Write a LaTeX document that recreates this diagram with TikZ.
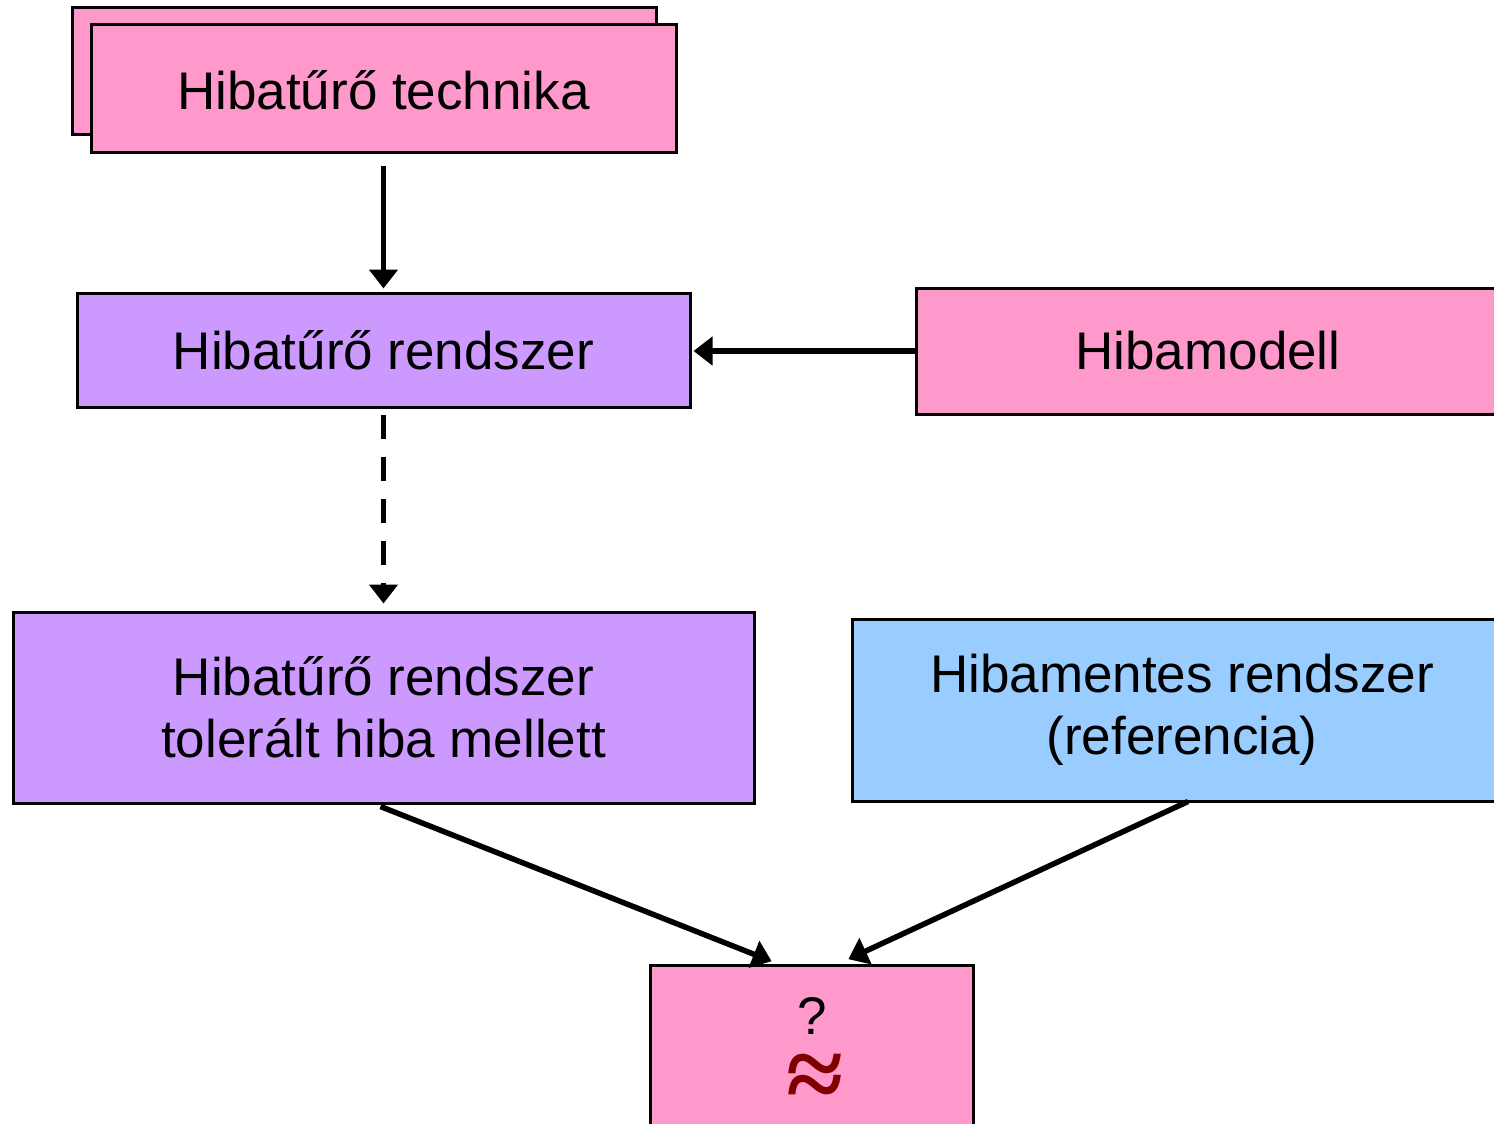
\documentclass[tikz,border=0pt]{standalone}
\usepackage{fontspec}
\setmainfont{Liberation Sans}
\newfontfamily\serifsym{Liberation Serif}
\usetikzlibrary{arrows.meta,calc}
\definecolor{pinkbox}{HTML}{FF99CC}
\definecolor{purplebox}{HTML}{CC99FF}
\definecolor{bluebox}{HTML}{99CCFF}
\definecolor{darkredsym}{HTML}{800000}
\tikzset{
  boxstyle/.style={draw=black, line width=3pt, inner sep=0pt, align=center,
    font=\fontsize{53}{62}\selectfont},
  pinkstyle/.style={boxstyle, fill=pinkbox},
  purplestyle/.style={boxstyle, fill=purplebox},
  bluestyle/.style={boxstyle, fill=bluebox},
  conn/.style={line width=5.5pt, -{Triangle[length=19pt,width=28pt]}},
}
\begin{document}
\begin{tikzpicture}[x=1pt,y=-1pt]
\useasboundingbox (0,0) rectangle (1494,1124);
\clip (0,0) rectangle (1494,1124);
% top stacked boxes
\node[pinkstyle, minimum width=584pt, minimum height=126pt] (techback) at (364,71) {};
\node[pinkstyle, minimum width=585pt, minimum height=127pt] (tech) at (383.5,88.5) {};
\node[font=\fontsize{53}{62}\selectfont] (techtext) at (383.5,90) {Hibatűrő technika};
% middle row
\node[purplestyle, minimum width=613pt, minimum height=114pt] (hr) at (383.5,350) {Hibatűrő rendszer};
\node[pinkstyle, minimum width=584pt, minimum height=126pt] (hm) at (1208,351) {Hibamodell};
% third row
\node[purplestyle, minimum width=741pt, minimum height=191pt] (ht) at (383.5,707.5) {Hibatűrő rendszer\\tolerált hiba mellett};
\node[bluestyle, minimum width=660pt, minimum height=182pt] (hf) at (1182,710) {Hibamentes rendszer\\(referencia)};
% bottom box
\node[pinkstyle, minimum width=323pt, minimum height=220pt, anchor=north] (q) at (811.5,964) {};
\node[font=\fontsize{53}{62}\selectfont, inner sep=0pt, text height=38pt, text depth=0pt] (qmark) at (812,1015) {?};
\node[font=\serifsym\bfseries\fontsize{104}{104}\selectfont, text=darkredsym, inner sep=0pt, text height=45pt, text depth=0pt] (approx) at (815,1087) {≈};
% connectors
\draw[conn, shorten <=12pt, shorten >=3pt] (tech.south) -- (hr.north);
\draw[conn, shorten >=2pt] (hm.west) -- (hm.west -| hr.east);
\draw[conn, dash pattern=on 24pt off 18pt, shorten <=6pt, shorten >=7pt] (hr.south) -- (ht.north);
\draw[conn, shorten >=2pt] ($(ht.south)+(-3,2)$) -- ($(q.north west)+(125,-2)$);
\draw[conn, shorten >=2pt] ($(hf.south)+(6,-1)$) -- ($(q.north west)+(198,-4)$);
\end{tikzpicture}
\end{document}
